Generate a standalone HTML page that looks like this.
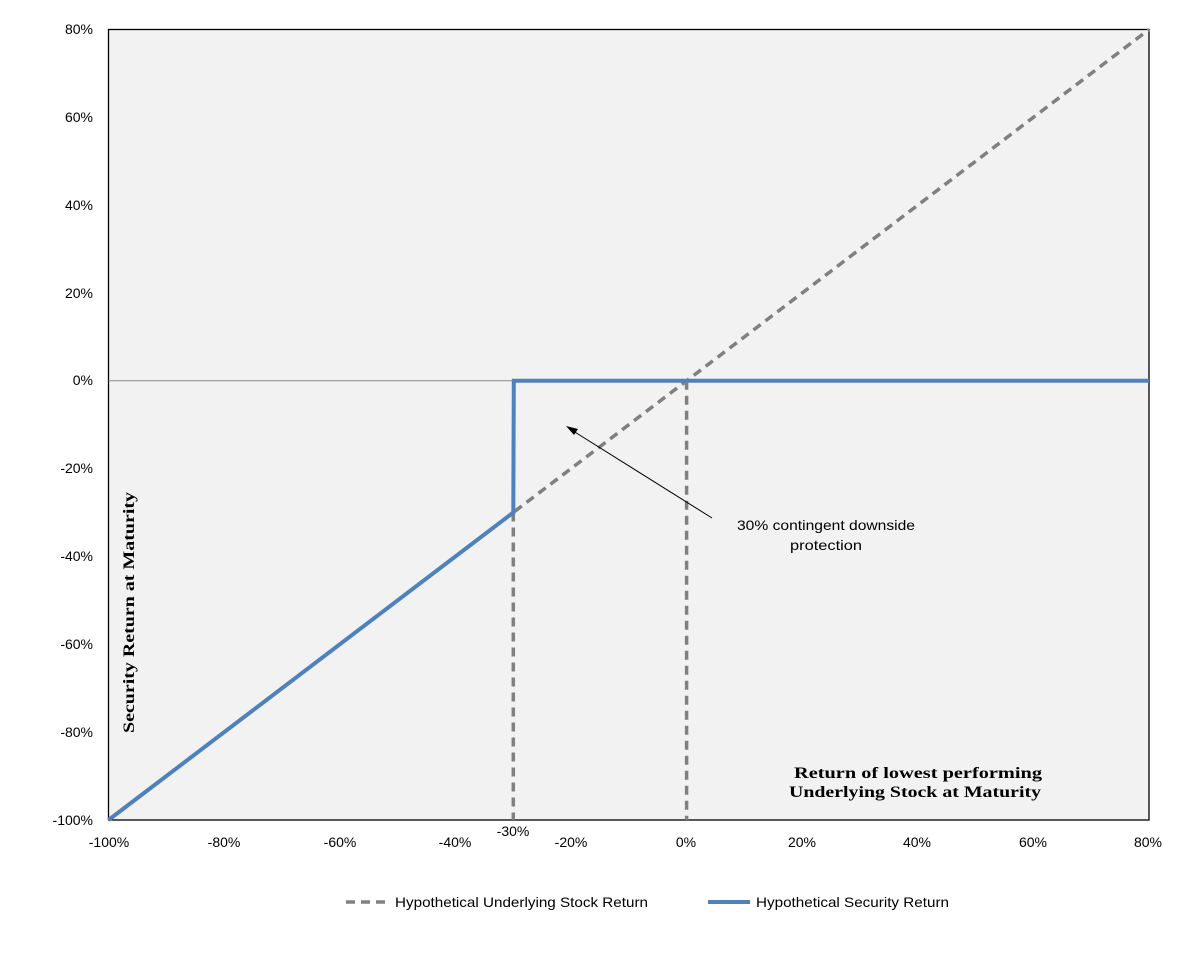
<!DOCTYPE html>
<html><head><style>body{margin:0;background:#fff}</style></head><body>
<svg width="1198" height="951" xmlns="http://www.w3.org/2000/svg" font-family="Liberation Sans, sans-serif">
<rect x="108.5" y="29.5" width="1040.5" height="790.5" fill="#f2f2f2" stroke="#000" stroke-width="1.3"/>
<line x1="108.5" y1="380.8" x2="1149" y2="380.8" stroke="#888" stroke-width="1"/>
<g font-size="14" fill="#000" text-anchor="end">
<text x="93" y="34">80%</text><text x="93" y="122">60%</text><text x="93" y="210">40%</text>
<text x="93" y="298">20%</text><text x="93" y="385">0%</text><text x="93" y="473">-20%</text>
<text x="93" y="561">-40%</text><text x="93" y="649">-60%</text><text x="93" y="737">-80%</text>
<text x="93" y="825">-100%</text>
</g>
<g font-size="14" fill="#000" text-anchor="middle">
<text x="109" y="847">-100%</text><text x="224" y="847">-80%</text><text x="340" y="847">-60%</text>
<text x="455" y="847">-40%</text><text x="571" y="847">-20%</text><text x="686" y="847">0%</text>
<text x="802" y="847">20%</text><text x="917" y="847">40%</text><text x="1033" y="847">60%</text>
<text x="1148" y="847">80%</text><text x="513" y="836">-30%</text>
</g>
<line x1="108.5" y1="820" x2="1149" y2="29.5" stroke="#808080" stroke-width="3.5" stroke-dasharray="9,6"/>
<line x1="513.3" y1="512.5" x2="513.3" y2="820" stroke="#808080" stroke-width="3.5" stroke-dasharray="9,6"/>
<line x1="686.6" y1="380.8" x2="686.6" y2="820" stroke="#808080" stroke-width="3.5" stroke-dasharray="9,6"/>
<polyline points="108.5,820 513.3,512.5 513.8,380.8 1149,380.8" fill="none" stroke="#4f81bd" stroke-width="4"/>
<line x1="712" y1="518" x2="570" y2="429" stroke="#000" stroke-width="1"/>
<polygon points="566,426 578,429 574,435" fill="#000"/>
<text x="737" y="530" font-size="14" textLength="178" lengthAdjust="spacingAndGlyphs">30% contingent downside</text>
<text x="790" y="550" font-size="14" textLength="72" lengthAdjust="spacingAndGlyphs">protection</text>
<text x="794" y="778" font-size="16" font-weight="bold" font-family="Liberation Serif, serif" textLength="248" lengthAdjust="spacingAndGlyphs">Return of lowest performing</text>
<text x="789" y="797" font-size="16" font-weight="bold" font-family="Liberation Serif, serif" textLength="252" lengthAdjust="spacingAndGlyphs">Underlying Stock at Maturity</text>
<text transform="translate(134,733) rotate(-90)" font-size="16" font-weight="bold" font-family="Liberation Serif, serif" textLength="241" lengthAdjust="spacingAndGlyphs">Security Return at Maturity</text>
<line x1="346" y1="902" x2="388" y2="902" stroke="#808080" stroke-width="3.5" stroke-dasharray="9,6"/>
<text x="395" y="907" font-size="14" textLength="253" lengthAdjust="spacingAndGlyphs">Hypothetical Underlying Stock Return</text>
<line x1="708" y1="902" x2="750" y2="902" stroke="#4f81bd" stroke-width="4"/>
<text x="756" y="907" font-size="14" textLength="193" lengthAdjust="spacingAndGlyphs">Hypothetical Security Return</text>
</svg>
</body></html>
